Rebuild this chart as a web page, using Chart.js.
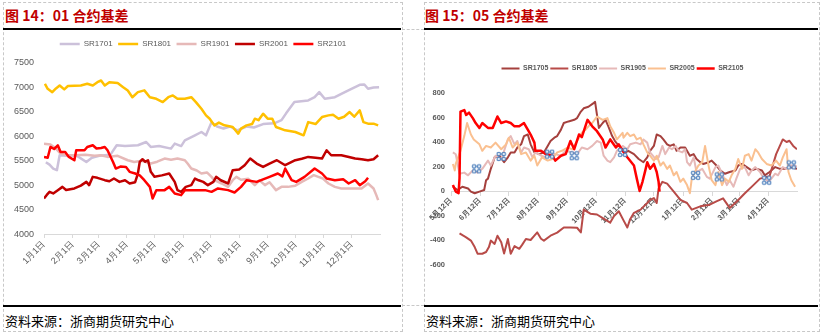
<!DOCTYPE html>
<html>
<head>
<meta charset="utf-8">
<script src="https://cdn.jsdelivr.net/npm/chart.js@4.4.0/dist/chart.umd.min.js"></script>
<style>
  body { margin: 0; background: #fff; width: 822px; height: 335px; position: relative; overflow: hidden; }
  .box { position: absolute; top: 2px; height: 330px; border: 1px dashed #C8C8C8; box-sizing: border-box; }
  .gap { position: absolute; left: 402px; width: 22px; border-top: 1px dashed #C8C8C8; }
  .title { position: absolute; top: 5px; line-height: 20px; font: bold 14px "Noto Sans CJK SC", sans-serif; color: #C00000; white-space: nowrap; }
  .rule { position: absolute; height: 2px; background: #000; }
  .src { position: absolute; top: 311px; line-height: 18px; font: 13px "Noto Sans CJK SC", sans-serif; color: #000; white-space: nowrap; }
  canvas { position: absolute; }
</style>
</head>
<body>
<div class="box" style="left:3px;width:400px"></div>
<div class="box" style="left:424px;width:396px"></div>
<div class="gap" style="top:29px"></div>
<div class="gap" style="top:305px"></div>

<div class="title" style="left:5px">图 14：01 合约基差</div>
<div class="title" style="left:425px">图 15：05 合约基差</div>
<div class="rule" style="left:3px;top:28px;width:398px"></div>
<div class="rule" style="left:424px;top:28px;width:394px"></div>
<div class="rule" style="left:3px;top:305px;width:398px"></div>
<div class="rule" style="left:424px;top:305px;width:394px"></div>
<div class="src" style="left:5px">资料来源：浙商期货研究中心</div>
<div class="src" style="left:426px">资料来源：浙商期货研究中心</div>

<canvas id="basis01" width="397" height="239" style="left:3px;top:32px"></canvas>
<canvas id="basis05" width="394" height="243" style="left:424px;top:32px"></canvas>

<script>
// ---- 01 contracts: x = days since Jan 1, y = basis level ----
const TICK_DAYS_01 = [0, 31, 59, 90, 120, 151, 181, 212, 243, 273, 304, 334];
const TICK_LABELS_01 = ['1月1日', '2月1日', '3月1日', '4月1日', '5月1日', '6月1日', '7月1日', '8月1日', '9月1日', '10月1日', '11月1日', '12月1日'];

const SR1701 = [[2,5470],[6,5420],[10,5340],[14,5306],[17,5612],[25,5600],[35,5610],[46,5475],[52,5560],[60,5600],[72,5620],[79,5816],[88,5800],[102,5816],[111,5883],[116,5782],[125,5800],[138,5748],[142,5850],[149,5800],[153,5918],[164,6020],[171,6088],[176,6020],[182,6290],[188,6200],[195,6160],[202,6200],[210,6120],[220,6200],[228,6180],[238,6250],[250,6265],[258,6330],[263,6470],[272,6700],[287,6733],[294,6800],[299,6903],[305,6768],[316,6800],[323,6870],[334,6972],[343,7054],[348,7060],[352,6972],[358,7000],[364,7005]];
const SR1801 = [[1,7075],[4,6972],[9,6903],[13,6980],[17,7040],[22,6960],[26,7030],[40,7040],[47,7074],[53,7040],[58,7107],[62,7142],[66,7040],[71,7107],[80,7090],[86,7005],[91,6938],[96,6800],[102,6903],[109,6940],[115,6800],[122,6768],[129,6700],[135,6800],[140,6836],[145,6768],[153,6770],[160,6800],[165,6700],[171,6564],[176,6428],[180,6360],[185,6224],[190,6280],[196,6224],[205,6190],[211,6054],[214,6156],[220,6224],[226,6250],[229,6360],[233,6330],[238,6462],[243,6360],[248,6360],[252,6190],[262,6122],[273,6088],[282,6020],[287,6290],[295,6250],[302,6394],[309,6428],[314,6440],[320,6360],[326,6400],[332,6496],[337,6400],[343,6530],[347,6290],[352,6258],[358,6258],[363,6224]];
const SR1901 = [[0,5850],[7,5830],[13,5748],[18,5646],[25,5610],[33,5612],[45,5620],[55,5600],[62,5612],[69,5578],[80,5600],[91,5510],[98,5475],[106,5500],[116,5442],[123,5480],[131,5544],[138,5520],[145,5544],[153,5510],[156,5442],[160,5340],[166,5300],[171,5238],[177,5260],[182,5170],[185,5102],[193,5034],[200,4965],[205,5102],[209,5170],[214,5110],[222,5130],[229,5000],[234,5100],[240,5000],[245,5060],[252,4898],[258,4965],[265,4965],[273,4990],[280,5067],[287,5136],[293,5204],[298,5170],[303,5136],[309,5034],[316,4965],[323,4932],[338,4932],[345,4932],[352,5034],[358,4932],[361,4796],[363,4694]];
const SR2001 = [[0,4728],[3,4800],[6,4863],[10,4830],[15,4898],[20,4965],[24,4900],[33,4932],[40,4990],[46,5067],[49,5000],[53,5170],[58,5150],[66,5102],[71,5080],[76,5136],[82,5067],[88,5100],[93,5034],[99,5060],[102,5238],[104,5475],[107,5530],[110,5480],[113,5510],[116,5272],[120,5170],[128,5200],[136,5238],[142,5067],[145,4898],[149,4863],[154,4965],[160,5000],[164,5136],[168,5100],[173,5067],[178,5000],[184,5067],[187,5170],[192,5100],[200,5034],[205,5306],[212,5320],[218,5408],[224,5544],[231,5442],[238,5374],[245,5440],[253,5510],[262,5408],[273,5510],[280,5540],[287,5578],[295,5560],[302,5544],[307,5714],[312,5612],[323,5612],[330,5580],[338,5544],[345,5530],[352,5510],[358,5530],[363,5612]];
const SR2101 = [[0,5578],[4,5560],[7,5782],[11,5740],[15,5816],[18,5680],[23,5680],[27,5578],[33,5510],[35,5714],[44,5714],[47,5782],[53,5816],[57,5750],[62,5760],[66,5782],[69,5714],[75,5475],[78,5340],[83,5380],[89,5374],[93,5272],[99,5238],[104,5200],[109,5102],[115,4965],[118,4728],[122,4898],[131,4898],[136,4965],[142,4830],[149,4796],[153,4898],[162,4898],[175,4898],[182,4863],[189,4932],[200,4898],[207,4850],[214,4965],[220,5102],[231,5067],[238,5120],[245,5170],[254,5238],[259,5180],[262,5340],[269,5102],[274,5067],[283,5170],[294,5340],[302,5238],[307,5136],[316,5102],[325,5120],[331,5034],[338,5102],[343,5000],[349,5081],[352,5150]];

// ---- 05 contracts: x = days since May 12, y = basis ----
const TICK_DAYS_05 = [0, 31, 61, 92, 123, 153, 184, 214, 245, 276, 304, 335];
const TICK_LABELS_05 = ['5月12日', '6月12日', '7月12日', '8月12日', '9月12日', '10月12日', '11月12日', '12月12日', '1月12日', '2月12日', '3月12日', '4月12日'];

const SR1705 = [[2,35],[7,8],[12,35],[18,20],[21,-5],[25,-18],[30,-5],[35,8],[37,88],[39,101],[42,181],[46,275],[51,288],[56,235],[60,275],[63,315],[67,315],[70,355],[74,381],[77,448],[81,461],[84,381],[88,315],[93,301],[98,315],[102,368],[105,408],[109,435],[112,448],[116,501],[119,555],[124,568],[130,581],[133,595],[137,648],[140,675],[145,688],[150,715],[152,728],[156,515],[160,555],[163,581],[166,528],[170,448],[173,408],[177,368],[181,341],[184,315],[187,328],[193,301],[198,261],[203,235],[207,275],[210,328],[214,368],[217,461],[221,448],[224,421],[228,381],[231,368],[235,381],[238,328],[242,355],[247,355],[252,288],[256,301],[259,261],[263,235],[266,221],[272,235],[275,248],[280,208],[284,168],[289,141],[294,155],[300,168],[303,208],[307,221],[312,195],[317,168],[322,181],[328,168],[331,128],[336,155],[342,195],[347,181],[352,181],[357,195],[365,181]];
const SR1805 = [[9,-346],[13,-365],[16,-378],[21,-405],[25,-458],[28,-512],[33,-512],[37,-498],[40,-458],[42,-405],[46,-432],[49,-365],[53,-418],[56,-510],[60,-392],[63,-512],[67,-450],[72,-472],[75,-440],[79,-392],[84,-400],[88,-365],[91,-338],[95,-390],[98,-405],[105,-365],[112,-340],[119,-298],[126,-298],[133,-300],[137,-338],[140,-152],[147,-185],[154,-192],[161,-225],[168,-258],[172,-205],[177,-165],[182,-240],[186,-298],[189,-230],[193,-178],[200,-152],[207,-98],[210,-72],[214,-58],[217,-98],[219,21],[223,75],[228,60],[235,-5],[242,-72],[249,-98],[254,-152],[263,-125],[273,-112],[280,-85],[287,-60],[294,-138],[301,-90],[310,-18],[319,48],[326,101],[333,115],[336,120],[343,301],[350,421],[354,400],[357,410],[361,368],[365,341]];
const SR1905 = [[2,315],[5,300],[9,141],[14,150],[18,128],[23,168],[28,150],[33,181],[39,248],[42,208],[47,288],[53,261],[56,328],[60,421],[63,448],[67,381],[70,408],[74,315],[77,355],[82,341],[86,275],[89,315],[95,288],[100,275],[105,315],[110,301],[116,288],[121,328],[128,315],[133,301],[138,355],[144,341],[149,368],[154,408],[158,395],[161,288],[165,248],[168,235],[172,275],[175,328],[181,368],[186,341],[189,381],[195,395],[200,381],[203,421],[207,395],[210,315],[216,261],[219,275],[223,368],[226,301],[230,355],[233,341],[237,368],[240,328],[244,315],[247,341],[249,235],[252,208],[256,275],[259,155],[265,181],[270,115],[273,101],[279,195],[282,208],[286,141],[291,48],[294,88],[298,35],[301,101],[305,181],[310,195],[314,128],[317,168],[321,195],[326,155],[329,115],[335,75],[338,101],[342,141],[345,128],[350,195],[354,181],[357,208],[363,208],[365,195]];
const SR2005 = [[2,221],[4,168],[5,221],[10,328],[14,448],[17,555],[21,461],[24,421],[30,381],[33,328],[37,368],[42,355],[47,395],[53,341],[58,381],[61,435],[65,355],[70,395],[74,301],[79,315],[84,248],[88,288],[91,208],[96,275],[102,248],[107,261],[112,315],[117,328],[123,355],[128,341],[133,408],[138,475],[142,501],[145,528],[149,555],[154,608],[160,581],[165,595],[168,528],[172,475],[175,421],[181,475],[182,435],[186,475],[189,448],[193,461],[196,421],[200,435],[203,381],[207,315],[210,288],[214,248],[217,288],[221,208],[224,235],[228,181],[231,208],[235,128],[238,155],[242,75],[245,101],[249,48],[252,-18],[254,101],[258,168],[261,208],[265,235],[268,368],[272,195],[275,88],[279,48],[282,155],[286,48],[289,101],[293,75],[296,128],[300,181],[303,261],[307,181],[310,288],[314,301],[317,248],[321,341],[324,315],[328,261],[333,221],[338,208],[343,248],[347,208],[350,275],[354,341],[356,155],[359,88],[363,35]];
const SR2105 = [[2,48],[5,-5],[8,-18],[9,104],[10,648],[14,661],[16,621],[19,640],[23,595],[26,555],[30,515],[33,555],[39,515],[44,515],[49,608],[53,555],[58,568],[63,555],[67,528],[72,528],[77,555],[81,501],[84,461],[88,395],[89,328],[95,328],[100,301],[107,288],[110,248],[116,288],[121,301],[126,408],[130,341],[135,461],[138,440],[144,581],[149,528],[154,488],[160,421],[163,355],[168,421],[174,355],[177,381],[181,328],[186,275],[193,208],[196,101],[199,0],[202,75],[205,168],[207,235],[210,181],[214,221],[217,155],[219,75],[220,-5]];
// stray blue markers visible in the source picture
const MARKS_05 = [[27,181],[53,282],[104,301],[130,288],[181,315],[258,128],[283,115],[333,88],[359,213]];

Chart.defaults.font.family = "'Liberation Sans', Arial, sans-serif";
Chart.defaults.color = '#595959';

const toXY = arr => arr.map(([x, y]) => ({ x, y }));

function lineSet(label, pts, color, width, i) {
    return {
        label, data: toXY(pts),
        borderColor: color, backgroundColor: color,
        borderWidth: width, pointRadius: 0, tension: 0,
        borderJoinStyle: 'round', order: -i,
    };
}

function monthAxis(days, labels, size, bold, extra) {
    return Object.assign({
        type: 'linear', min: 0, max: 365,
        afterBuildTicks: s => { s.ticks = days.map(v => ({ value: v })); },
        ticks: {
            autoSkip: false, minRotation: 45, maxRotation: 45, padding: 1,
            font: { size, weight: bold ? 'bold' : 'normal' },
            callback: (v, i) => labels[i],
        },
        grid: { drawOnChartArea: false, drawTicks: true, tickLength: 4, color: '#D9D9D9' },
        border: { display: true, color: '#D9D9D9' },
    }, extra || {});
}

function valueAxis(min, max, step, size, bold, pad, width) {
    return {
        min, max,
        ticks: { stepSize: step, padding: pad, font: { size, weight: bold ? 'bold' : 'normal' }, callback: v => String(v) },
        grid: { display: false, drawTicks: false }, border: { display: false },
        afterFit: s => { s.width = width; },
    };
}

// empty axis, only used to reserve room (legend gap / right margin)
function spacer(axis, position, size) {
    return {
        type: 'linear', axis, position, display: true,
        ticks: { display: false }, grid: { display: false, drawTicks: false }, border: { display: false },
        afterFit: s => { if (axis === 'x') s.height = size; else s.width = size; },
    };
}

function cmdMarker() {
    const c = document.createElement('canvas');
    c.width = 11; c.height = 11;
    const g = c.getContext('2d');
    g.strokeStyle = '#4F81BD'; g.fillStyle = '#DCE6F2'; g.lineWidth = 1.1;
    g.strokeRect(3, 3, 5, 5);
    [[3, 3], [8, 3], [3, 8], [8, 8]].forEach(([x, y]) => {
        g.beginPath(); g.arc(x, y, 1.8, 0, Math.PI * 2); g.fill(); g.stroke();
    });
    return c;
}

// ── Figure 14: 01 contracts ─────────────────────────────
new Chart(document.getElementById('basis01'), {
    type: 'line',
    data: {
        datasets: [
            lineSet('SR1701', SR1701, '#CCC1DA', 2.5, 0),
            lineSet('SR1801', SR1801, '#FFC000', 2.5, 1),
            lineSet('SR1901', SR1901, '#E6B9B8', 2.5, 2),
            lineSet('SR2001', SR2001, '#C00000', 2.5, 3),
            lineSet('SR2101', SR2101, '#FF0000', 2.5, 4),
        ],
    },
    options: {
        responsive: false, animation: false,
        layout: { padding: { left: 3, right: 0, top: 2.5, bottom: 0 } },
        plugins: {
            legend: {
                position: 'top',
                labels: {
                    usePointStyle: true, pointStyle: 'line', pointStyleWidth: 20,
                    padding: 5.5, font: { size: 8 }, color: '#595959',
                    sort: (a, b) => a.datasetIndex - b.datasetIndex,
                },
            },
            tooltip: { enabled: false },
        },
        scales: {
            x: monthAxis(TICK_DAYS_01, TICK_LABELS_01, 9, false),
            gap: spacer('x', 'top', 5),
            y: valueAxis(4000, 7500, 500, 9, false, 10, 38),
            edge: spacer('y', 'right', 20),
        },
    },
});

// ── Figure 15: 05 contracts ─────────────────────────────
new Chart(document.getElementById('basis05'), {
    type: 'line',
    data: {
        datasets: [
            lineSet('SR1705', SR1705, '#A5403D', 2, 0),
            lineSet('SR1805', SR1805, '#B84B48', 2, 1),
            lineSet('SR1905', SR1905, '#E6B9B8', 2, 2),
            lineSet('SR2005', SR2005, '#FAC090', 2, 3),
            lineSet('SR2105', SR2105, '#FF0000', 2.5, 4),
            {
                label: 'marks', type: 'scatter', data: toXY(MARKS_05),
                pointStyle: cmdMarker(), pointRadius: 5, showLine: false, order: -9,
            },
        ],
    },
    options: {
        responsive: false, animation: false,
        layout: { padding: { left: 3, right: 0, top: 31, bottom: 0 } },
        plugins: {
            legend: {
                position: 'top',
                labels: {
                    usePointStyle: true, pointStyle: 'line', pointStyleWidth: 18,
                    padding: 2, font: { size: 7, weight: 'bold' }, color: '#595959',
                    filter: item => item.text !== 'marks',
                    sort: (a, b) => a.datasetIndex - b.datasetIndex,
                },
            },
            tooltip: { enabled: false },
        },
        scales: {
            x: monthAxis(TICK_DAYS_05, TICK_LABELS_05, 7.5, true, { position: { y: 0 } }),
            gap: spacer('x', 'top', 11),
            y: valueAxis(-600, 800, 200, 7.5, true, 6, 24),
            edge: spacer('y', 'right', 21),
        },
    },
});
</script>
</body>
</html>
